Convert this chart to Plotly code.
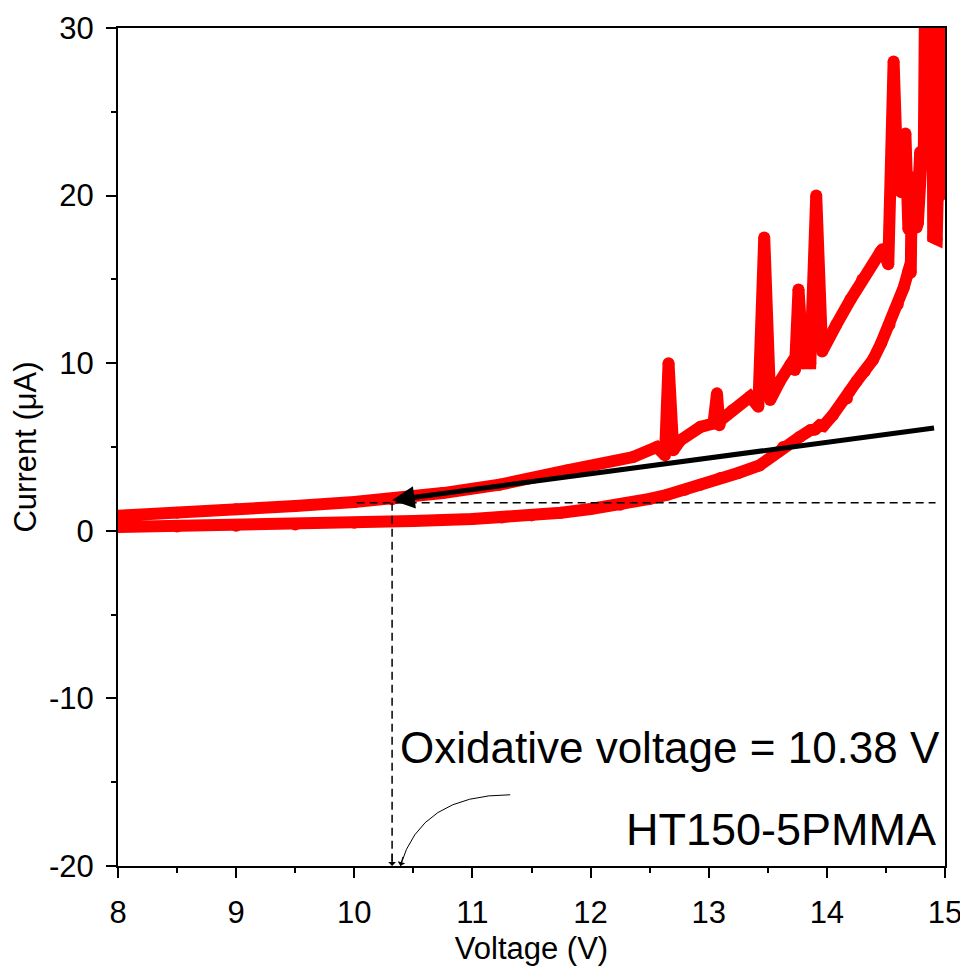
import plotly.graph_objects as go

# ---- data ----
# forward sweep (lower branch) followed by top-right breakdown region
fwd_v = [8.0, 8.5, 9.0, 9.5, 10.0, 10.5, 11.0, 11.25, 11.5, 11.75, 12.0, 12.25, 12.5, 12.65,
         12.8, 12.93, 13.1, 13.25, 13.43, 13.63, 13.77, 13.86, 13.9, 13.94, 13.97, 14.05,
         14.17, 14.19, 14.25, 14.32, 14.39, 14.46, 14.53, 14.6, 14.65, 14.69, 14.71, 14.72,
         14.76, 14.79, 14.82, 14.84, 14.89, 14.90, 14.93, 14.94, 14.96, 14.97, 14.99]
fwd_i = [0.22, 0.26, 0.3, 0.38, 0.48, 0.58, 0.7, 0.8, 0.92, 1.08, 1.3, 1.55, 1.9, 2.15,
         2.45, 2.75, 3.15, 3.45, 3.9, 5.0, 5.6, 6.0, 6.05, 6.3, 6.25, 6.9,
         7.9, 8.3, 8.9, 9.5, 10.2, 11.2, 12.3, 13.5, 14.5, 15.5, 15.4, 21.1,
         18.1, 22.6, 22.0, 40.0, 40.0, 17.5, 17.4, 20.5, 20.0, 25.0, 40.0]
# reverse sweep (upper branch) with current spikes
rev_v = [14.84, 14.84, 14.80, 14.77, 14.73, 14.69, 14.665, 14.63, 14.60, 14.565, 14.52,
         14.47, 14.45, 14.3, 14.2, 14.08, 13.96, 13.91, 13.86, 13.80, 13.76, 13.73, 13.69,
         13.6, 13.52, 13.47, 13.42, 13.35, 13.2, 13.1, 13.09, 13.07, 13.04, 12.93, 12.76,
         12.70, 12.66, 12.63, 12.56, 12.36, 11.8, 11.23, 10.75, 10.32, 10.0, 9.5,
         9.0, 8.5, 8.0]
rev_i = [40.0, 22.5, 22.0, 18.3, 20.5, 18.0, 23.7, 20.2, 20.5, 28.0, 15.9,
         16.8, 16.6, 15.0, 13.8, 12.3, 10.7, 20.0, 10.0, 10.0, 14.4, 9.6, 9.9,
         8.9, 7.8, 17.5, 7.4, 8.0, 7.2, 6.6, 6.3, 8.2, 6.4, 6.2, 5.4,
         4.8, 10.0, 4.5, 5.0, 4.4, 3.6, 2.75, 2.25, 1.88, 1.72, 1.48,
         1.28, 1.08, 0.9]

tangent_v = [10.32, 14.92]     # [arrow tip, tail]
tangent_i = [1.82, 6.15]
dash_h_v = [10.02, 14.92]
dash_h_i = [1.67, 1.67]
dash_v_v = [10.32, 10.32]
dash_v_i = [1.67, -20.0]
curve_v = [11.32, 10.56, 10.39]   # start, control, end
curve_i = [-15.75, -15.75, -20.0]

label_text = "Oxidative voltage = 10.38 V"
label_pos = (10.37, -12.95)
sample_text = "HT150-5PMMA"
sample_pos = (14.94, -17.85)

x_ticks = [8, 9, 10, 11, 12, 13, 14, 15]
x_labels = ["8", "9", "10", "11", "12", "13", "14", "15"]
y_ticks = [-20, -10, 0, 10, 20, 30]
y_labels = ["-20", "-10", "0", "10", "20", "30"]

FONT = "Arial, Liberation Sans, sans-serif"
LW = 12

fig = go.Figure()
fig.add_trace(go.Scatter(
    x=fwd_v + rev_v, y=fwd_i + rev_i, mode="lines+markers",
    line=dict(color="#FF0000", width=LW),
    marker=dict(color="#FF0000", size=LW, line=dict(width=0)),
    cliponaxis=True, showlegend=False))

# dashed guide lines
fig.add_trace(go.Scatter(x=dash_h_v, y=dash_h_i, mode="lines",
                         line=dict(color="black", width=1.5, dash="8px,5px"), showlegend=False))
fig.add_trace(go.Scatter(x=dash_v_v, y=dash_v_i, mode="lines",
                         line=dict(color="black", width=1.5, dash="8px,5px"), showlegend=False))

# tangent arrow
fig.add_annotation(x=tangent_v[0], y=tangent_i[0], ax=tangent_v[1], ay=tangent_i[1],
                   xref="x", yref="y", axref="x", ayref="y", text="",
                   showarrow=True, arrowhead=2, arrowsize=0.9, arrowwidth=5, arrowcolor="black")
# small arrowhead on the vertical dashed line
fig.add_annotation(x=dash_v_v[1], y=dash_v_i[1], ax=0, ay=-14, xref="x", yref="y",
                   text="", showarrow=True, arrowhead=1, arrowsize=1.3, arrowwidth=1,
                   arrowcolor="black")

# curved pointer
path = "M {} {} Q {} {} {} {}".format(curve_v[0], curve_i[0], curve_v[1], curve_i[1],
                                      curve_v[2], curve_i[2])
fig.add_shape(type="path", path=path, xref="x", yref="y",
              line=dict(color="black", width=1))
tail_v = curve_v[2] + 0.15 * (curve_v[1] - curve_v[2])
tail_i = curve_i[2] + 0.15 * (curve_i[1] - curve_i[2])
fig.add_annotation(x=curve_v[2], y=curve_i[2], ax=tail_v, ay=tail_i,
                   xref="x", yref="y", axref="x", ayref="y",
                   text="", showarrow=True, arrowhead=1, arrowsize=1.3, arrowwidth=1,
                   arrowcolor="black", standoff=0)

fig.add_annotation(x=label_pos[0], y=label_pos[1], text=label_text, showarrow=False,
                   xanchor="left", yanchor="middle", font=dict(family=FONT, size=44, color="black"))
fig.add_annotation(x=sample_pos[0], y=sample_pos[1], text=sample_text, showarrow=False,
                   xanchor="right", yanchor="middle", font=dict(family=FONT, size=45, color="black"))

axis_common = dict(showline=True, linecolor="black", linewidth=2, mirror=True,
                   ticks="outside", ticklen=10, tickwidth=2, tickcolor="black",
                   showgrid=False, zeroline=False, automargin=False,
                   tickfont=dict(family=FONT, size=31, color="black"))

fig.update_xaxes(range=[8, 15], tickvals=x_ticks, ticktext=x_labels,
                 minor=dict(ticks="outside", ticklen=5, tickwidth=2, tickcolor="black", dtick=0.5),
                 title=dict(text="Voltage (V)", font=dict(family=FONT, size=31, color="black"), standoff=10),
                 ticklabelstandoff=8, **axis_common)
fig.update_yaxes(range=[-20, 30], tickvals=y_ticks, ticktext=y_labels,
                 minor=dict(ticks="outside", ticklen=5, tickwidth=2, tickcolor="black", dtick=5),
                 title=dict(text="Current (μA)", font=dict(family=FONT, size=31, color="black"), standoff=10),
                 ticklabelstandoff=6, **axis_common)

# page body adds an 8 px offset, so the figure is 8 px smaller and margins shifted
fig.update_layout(width=960, height=958, margin=dict(l=110, r=23, t=20, b=100),
                  plot_bgcolor="white", paper_bgcolor="white", font=dict(family=FONT))

fig.write_html("out.html")
